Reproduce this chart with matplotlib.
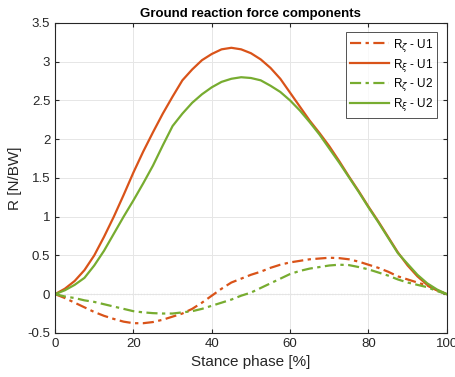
import matplotlib
matplotlib.use("Agg")
import matplotlib.pyplot as plt
import numpy as np

plt.rcParams['font.family'] = ['Liberation Sans', 'DejaVu Sans']

# stance phase [%]
x = [0, 2.5, 5, 7.5, 10, 12.5, 15, 17.5, 20, 22.5, 25, 27.5, 30, 32.5, 35, 37.5, 40,
     42.5, 45, 47.5, 50, 52.5, 55, 57.5, 60, 62.5, 65, 67.5, 70, 72.5, 75, 77.5, 80,
     82.5, 85, 87.5, 90, 92.5, 95, 97.5, 100]

# subject U1
r_zeta_u1 = [0, -0.05, -0.11, -0.17, -0.23, -0.28, -0.32, -0.355, -0.375, -0.375, -0.36,
             -0.33, -0.29, -0.25, -0.19, -0.11, -0.02, 0.07, 0.15, 0.20, 0.25, 0.29, 0.34,
             0.38, 0.41, 0.43, 0.45, 0.46, 0.47, 0.465, 0.45, 0.42, 0.38, 0.34, 0.29, 0.23,
             0.19, 0.15, 0.11, 0.05, 0]
r_xi_u1 = [0, 0.07, 0.17, 0.31, 0.50, 0.74, 1.00, 1.28, 1.57, 1.84, 2.09, 2.33, 2.55, 2.76,
           2.90, 3.02, 3.10, 3.16, 3.18, 3.16, 3.11, 3.03, 2.92, 2.78, 2.60, 2.42, 2.24,
           2.08, 1.91, 1.72, 1.52, 1.33, 1.13, 0.94, 0.74, 0.54, 0.37, 0.23, 0.12, 0.05, 0]

# subject U2
r_zeta_u2 = [0, -0.03, -0.05, -0.08, -0.10, -0.13, -0.16, -0.19, -0.22, -0.235, -0.245,
             -0.25, -0.25, -0.235, -0.22, -0.19, -0.15, -0.11, -0.07, -0.02, 0.02, 0.08,
             0.14, 0.20, 0.26, 0.30, 0.33, 0.35, 0.37, 0.38, 0.375, 0.35, 0.32, 0.28, 0.24,
             0.19, 0.15, 0.12, 0.09, 0.04, 0]
r_xi_u2 = [0, 0.05, 0.12, 0.21, 0.37, 0.56, 0.78, 1.00, 1.21, 1.43, 1.66, 1.92, 2.17, 2.33,
           2.47, 2.58, 2.67, 2.74, 2.78, 2.80, 2.79, 2.76, 2.69, 2.61, 2.50, 2.37, 2.22,
           2.06, 1.88, 1.70, 1.51, 1.32, 1.12, 0.93, 0.73, 0.53, 0.39, 0.25, 0.14, 0.06, 0]

orange = '#D95319'
green = '#77AC30'
dashdot = (5, 2, 1.5, 2)

fig = plt.figure(figsize=(4.55, 3.77), dpi=100)
ax = fig.add_axes([0.121, 0.117, 0.861, 0.822])

ax.plot(x, r_zeta_u1, color=orange, ls=(0, dashdot), lw=1.6, label=r'R$_\zeta$ - U1')
ax.plot(x, r_xi_u1, color=orange, ls='-', lw=1.6, label=r'R$_\xi$ - U1')
ax.plot(x, r_zeta_u2, color=green, ls=(0, dashdot), lw=1.6, label=r'R$_\zeta$ - U2')
ax.plot(x, r_xi_u2, color=green, ls='-', lw=1.6, label=r'R$_\xi$ - U2')
ax.axhline(0, color='#999999', ls=':', lw=0.8, zorder=0)

ax.set_xlim(0, 100)
ax.set_ylim(-0.5, 3.5)
ax.set_xticks(np.arange(0, 101, 20))
ax.set_yticks(np.arange(-0.5, 3.51, 0.5))
ax.set_yticklabels(['-0.5', '0', '0.5', '1', '1.5', '2', '2.5', '3', '3.5'])
ax.grid(True, color='#e6e6e6', lw=0.7)
ax.set_axisbelow(True)
ax.tick_params(direction='in', top=True, right=True, labelsize=9.5, colors='#262626', length=3)
for s in ax.spines.values():
    s.set_color('#262626')
    s.set_linewidth(0.8)

ax.set_xlabel('Stance phase [%]', fontsize=11, color='#262626')
ax.set_ylabel('R [N/BW]', fontsize=11, color='#262626')
ax.set_title('Ground reaction force components', fontsize=9.5, fontweight='bold', pad=4)

leg = ax.legend(loc='upper right', fontsize=8.5, frameon=True, fancybox=False,
                edgecolor='#262626', handlelength=3.3, borderaxespad=0.8,
                labelspacing=0.25, handletextpad=0.3, borderpad=0.35)
leg.get_frame().set_linewidth(0.7)

fig.savefig('out.png', dpi=100)
